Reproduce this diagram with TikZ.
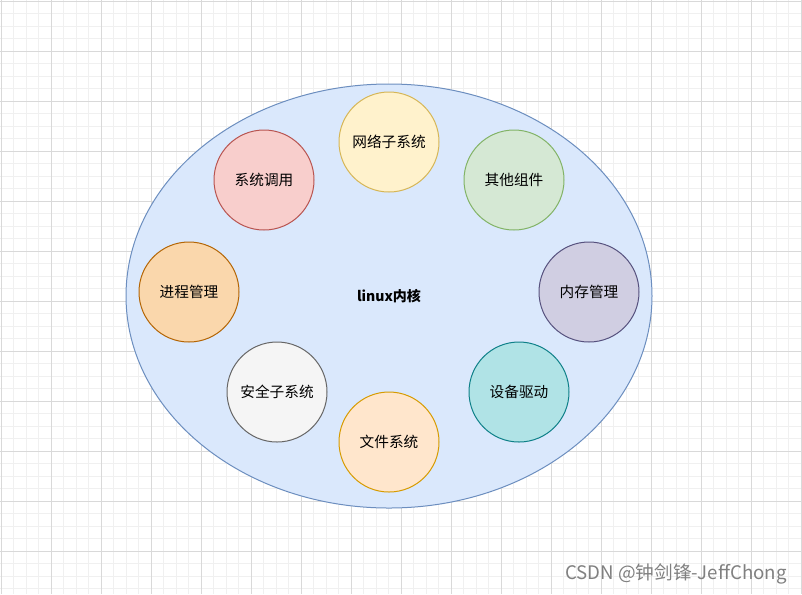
\documentclass[tikz,border=0pt]{standalone}
\usepackage{fontspec}
\usetikzlibrary{shapes.geometric}
\setmainfont{Noto Sans CJK SC}
\newfontfamily\cjk{Noto Sans CJK SC}
\definecolor{minorgrid}{HTML}{F0F0F0}
\definecolor{majorgrid}{HTML}{D9D9D9}
\definecolor{ellfill}{HTML}{DAE8FC}
\definecolor{elldraw}{HTML}{6C8EBF}
\tikzset{
  comp/.style={circle, minimum size=100*0.75pt, inner sep=0pt, line width=0.75pt, font=\fontsize{11}{13}\selectfont},
}
\begin{document}
\begin{tikzpicture}[x=0.75pt,y=-0.75pt]
\useasboundingbox (0,0) rectangle (802,594);
\fill[white] (0,0) rectangle (802,594);
% minor grid
\foreach \i in {0,...,64} {
  \draw[minorgrid, line width=0.75pt] ({1+12.5*\i},0) -- ({1+12.5*\i},594);
}
\foreach \j in {0,...,48} {
  \draw[minorgrid, line width=0.75pt] (0,{1+12.5*\j}) -- (802,{1+12.5*\j});
}
% major grid
\foreach \i in {0,...,16} {
  \draw[majorgrid, line width=0.75pt] ({1+50*\i},0) -- ({1+50*\i},594);
}
\foreach \j in {0,...,11} {
  \draw[majorgrid, line width=0.75pt] (0,{1+50*\j}) -- (802,{1+50*\j});
}
% kernel ellipse
\node[ellipse, draw=elldraw, fill=ellfill, line width=0.75pt, minimum width=526*0.75pt, minimum height=424*0.75pt, inner sep=0pt] (kernel) at (389,296) {};
\node[font=\bfseries\fontsize{10.5}{12}\selectfont] (label) at (389,296) {linux内核};
% components
\node[comp, fill={rgb,255:red,255;green,242;blue,204}, draw={rgb,255:red,214;green,182;blue,86}] (net) at (389,142) {网络子系统};
\node[comp, fill={rgb,255:red,213;green,232;blue,212}, draw={rgb,255:red,130;green,179;blue,102}] (other) at (514,180) {其他组件};
\node[comp, fill={rgb,255:red,208;green,206;blue,226}, draw={rgb,255:red,86;green,81;blue,126}] (mem) at (589,292) {内存管理};
\node[comp, fill={rgb,255:red,176;green,227;blue,230}, draw={rgb,255:red,14;green,128;blue,136}] (dev) at (519,392) {设备驱动};
\node[comp, fill={rgb,255:red,255;green,230;blue,204}, draw={rgb,255:red,215;green,155;blue,0}] (fs) at (389,442) {文件系统};
\node[comp, fill={rgb,255:red,245;green,245;blue,245}, draw={rgb,255:red,102;green,102;blue,102}] (sec) at (277,392) {安全子系统};
\node[comp, fill={rgb,255:red,250;green,215;blue,172}, draw={rgb,255:red,180;green,101;blue,4}] (proc) at (189,292) {进程管理};
\node[comp, fill={rgb,255:red,248;green,206;blue,204}, draw={rgb,255:red,184;green,84;blue,80}] (sys) at (264,180) {系统调用};
% watermark
\node[text=black!50, font=\fontsize{14}{16}\selectfont, anchor=east, inner sep=0pt] (wm) at (787,574) {CSDN @钟剑锋-JeffChong};
\end{tikzpicture}
\end{document}
